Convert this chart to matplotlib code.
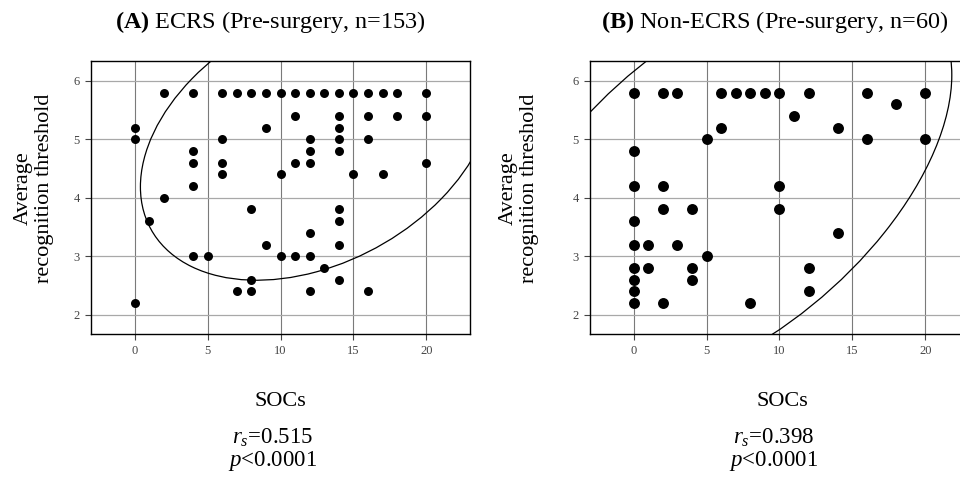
import numpy as np
import matplotlib
matplotlib.use("Agg")
import matplotlib.pyplot as plt
from matplotlib.patches import Circle
from matplotlib.transforms import Affine2D

plt.rcParams["font.family"] = ["Liberation Serif", "DejaVu Serif"]
plt.rcParams["mathtext.fontset"] = "custom"
plt.rcParams["mathtext.rm"] = "Liberation Serif"
plt.rcParams["mathtext.it"] = "Liberation Serif:italic"
plt.rcParams["mathtext.bf"] = "Liberation Serif:bold"

# ---- panel A: ECRS (pre-surgery) ----
ecrs_socs = [2, 4, 6, 7, 8, 9, 10, 11, 12, 13, 14, 15, 16, 17, 18, 20,
             11, 14, 16, 18, 20,
             0, 9, 14,
             0, 6, 12, 14, 16,
             4, 12, 14,
             4, 6, 11, 12, 20,
             6, 10, 15, 17,
             4,
             2,
             8, 14,
             1, 14,
             12,
             9, 14,
             4, 5, 10, 11, 12,
             13,
             8, 14,
             7, 8, 12, 16,
             0]
ecrs_thr = [5.8] * 16 + [5.4] * 5 + [5.2] * 3 + [5.0] * 5 + [4.8] * 3 + \
           [4.6] * 5 + [4.4] * 4 + [4.2] + [4.0] + [3.8] * 2 + [3.6] * 2 + \
           [3.4] + [3.2] * 2 + [3.0] * 5 + [2.8] + [2.6] * 2 + [2.4] * 4 + [2.2]

# ---- panel B: non-ECRS (pre-surgery) ----
non_socs = [0, 2, 3, 6, 7, 8, 9, 10, 12, 16, 20,
            18,
            11,
            6, 14,
            5, 16, 20,
            0,
            0, 2, 10,
            2, 4, 10,
            0,
            14,
            0, 1, 3,
            5,
            0, 1, 4, 12,
            0, 4,
            0, 12,
            0, 2, 8]
non_thr = [5.8] * 11 + [5.6] + [5.4] + [5.2] * 2 + [5.0] * 3 + [4.8] + \
          [4.2] * 3 + [3.8] * 3 + [3.6] + [3.4] + [3.2] * 3 + [3.0] + \
          [2.8] * 4 + [2.6] * 2 + [2.4] * 2 + [2.2] * 3

# density ellipse parameters: (mean x, mean y, half-width x, half-height y, r)
ecrs_ellipse = (12.48, 5.01, 12.09, 2.42, 0.34)
non_ellipse = (6.25, 4.19, 15.57, 3.55, 0.538)

titles = [r"$\mathbf{(A)}$ ECRS (Pre-surgery, n=153)",
          r"$\mathbf{(B)}$ Non-ECRS (Pre-surgery, n=60)"]
rs_text = [r"$r_s$=0.515", r"$r_s$=0.398"]
p_text = [r"$p$<0.0001", r"$p$<0.0001"]
x_ticks = [0, 5, 10, 15, 20]
y_ticks = [2, 3, 4, 5, 6]


def density_ellipse(ax, params):
    mx, my, a, b, r = params
    m = np.array([[a, 0.0, mx],
                  [b * r, b * np.sqrt(1 - r ** 2), my],
                  [0.0, 0.0, 1.0]])
    circ = Circle((0, 0), 1.0, fill=False, edgecolor="black", lw=0.9,
                  transform=Affine2D(m) + ax.transData)
    ax.add_patch(circ)


fig = plt.figure(figsize=(9.6, 4.78), dpi=100)
W, H = 960.0, 478.0

panels = [
    dict(left=91, xs=ecrs_socs, ys=ecrs_thr, ell=ecrs_ellipse, ms=42,
         title_x=270, ylab_x=34, socs_x=280, stat_x=273),
    dict(left=590, xs=non_socs, ys=non_thr, ell=non_ellipse, ms=62,
         title_x=775, ylab_x=519, socs_x=782, stat_x=774),
]

for i, p in enumerate(panels):
    ax = fig.add_axes([p["left"] / W, 1 - 334 / H, 379 / W, 273 / H])
    ax.set_xlim(-3, 23)
    ax.set_ylim(1.67, 6.34)
    ax.grid(True, axis="x", color="#7a7a7a", lw=0.8)
    ax.grid(True, axis="y", color="#a8a8a8", lw=0.9)
    ax.set_axisbelow(True)
    ax.scatter(p["xs"], p["ys"], s=p["ms"], color="black", zorder=3,
               linewidths=0)
    density_ellipse(ax, p["ell"])
    ax.set_xticks(x_ticks)
    ax.set_yticks(y_ticks)
    ax.tick_params(direction="out", length=4, width=0.8, labelsize=9,
                   labelcolor="#444444", color="#444444", pad=4)
    for s in ax.spines.values():
        s.set_color("black")
        s.set_linewidth(1.0)

    fig.text(p["title_x"] / W, 1 - 22 / H, titles[i], ha="center",
             va="center", fontsize=17.5)
    fig.text(p["ylab_x"] / W, 1 - 188 / H, "Average\nrecognition threshold",
             rotation=90, ha="center", va="center", fontsize=16,
             linespacing=1.2)
    fig.text(p["socs_x"] / W, 1 - 401 / H, "SOCs", ha="center",
             va="center", fontsize=16)
    fig.text(p["stat_x"] / W, 1 - 438 / H, rs_text[i], ha="center",
             va="center", fontsize=16.5)
    fig.text(p["stat_x"] / W, 1 - 461 / H, p_text[i], ha="center",
             va="center", fontsize=16.5)

fig.savefig("out.png", dpi=100)
